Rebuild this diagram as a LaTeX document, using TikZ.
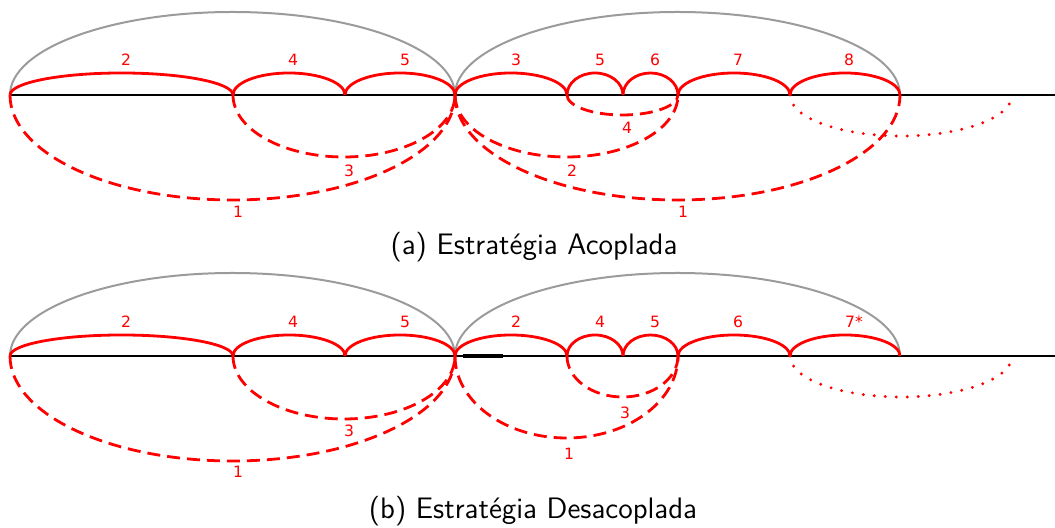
\documentclass[tikz,border=0pt]{standalone}
\usepackage{fontspec}
\newfontfamily\lblfont{DejaVu Sans}
\usetikzlibrary{calc}
\definecolor{arcgray}{RGB}{155,155,155}

\begin{document}
\begin{tikzpicture}[x=0.5pt,y=0.5pt,
  axis/.style={line width=1.3pt,black},
  outer/.style={line width=1pt,arcgray},
  seg/.style={line width=1.4pt,red},
  back/.style={line width=1.4pt,red,dash pattern=on 6.5pt off 3.5pt},
  open/.style={line width=1.6pt,red,line cap=round,dash pattern=on 0pt off 5.5pt},
  lbl/.style={red,font=\lblfont\fontsize{7.8}{9}\selectfont,inner sep=0pt},
  capt/.style={font=\sffamily\fontsize{14.8}{17}\selectfont,anchor=base,inner sep=0pt}]
\useasboundingbox (0,0) rectangle (1055,528);

% (a) Estrategia Acoplada
\begin{scope}[shift={(0,433)}]
\foreach \n/\x in {0/10,1/233,2/345,3/455,4/567,5/623,6/678,7/790,8/900,9/1012}
  \coordinate (a\n) at (\x,0);
\coordinate (aend) at (1055,0);
\draw[axis] (a0) -- (aend);
\draw[outer] (a0) arc[start angle=180,end angle=0,x radius=222.5,y radius=83];
\draw[outer] (a3) arc[start angle=180,end angle=0,x radius=222.5,y radius=83];
% forward steps
\draw[seg] (a0) arc[start angle=180,end angle=0,x radius=111.5,y radius=22];
\draw[seg] (a1) arc[start angle=180,end angle=0,x radius=56,y radius=22];
\draw[seg] (a2) arc[start angle=180,end angle=0,x radius=55,y radius=22];
\draw[seg] (a3) arc[start angle=180,end angle=0,x radius=56,y radius=22];
\draw[seg] (a4) arc[start angle=180,end angle=0,x radius=28,y radius=22];
\draw[seg] (a5) arc[start angle=180,end angle=0,x radius=27.5,y radius=22];
\draw[seg] (a6) arc[start angle=180,end angle=0,x radius=56,y radius=22];
\draw[seg] (a7) arc[start angle=180,end angle=0,x radius=55,y radius=22];
% backward steps
\draw[back] (a0) arc[start angle=180,end angle=360,x radius=222.5,y radius=105];
\draw[back] (a1) arc[start angle=180,end angle=360,x radius=111,y radius=62];
\draw[back] (a3) arc[start angle=180,end angle=360,x radius=222.5,y radius=105];
\draw[back] (a3) arc[start angle=180,end angle=360,x radius=111.5,y radius=62];
\draw[back] (a4) arc[start angle=180,end angle=360,x radius=55.5,y radius=20];
\draw[open] (a7) arc[start angle=180,end angle=360,x radius=111,y radius=41];
% labels
\node[lbl] (at2) at (126,35) {2};
\node[lbl] (at4) at (293,35) {4};
\node[lbl] (at5) at (405,35) {5};
\node[lbl] (at3) at (516,35) {3};
\node[lbl] (at5b) at (600,35) {5};
\node[lbl] (at6) at (655,35) {6};
\node[lbl] (at7) at (738,35) {7};
\node[lbl] (at8) at (849,35) {8};
\node[lbl] (ab1) at (238,-117) {1};
\node[lbl] (ab3) at (349,-76) {3};
\node[lbl] (ab2) at (572,-76) {2};
\node[lbl] (ab4) at (627,-33) {4};
\node[lbl] (ab1b) at (683,-117) {1};
\node[capt] (capa) at (534,-160) {(a) Estratégia Acoplada};
\end{scope}

% (b) Estrategia Desacoplada
\begin{scope}[shift={(0,172)}]
\foreach \n/\x in {0/10,1/233,2/345,3/455,4/567,5/623,6/678,7/790,8/900,9/1012}
  \coordinate (b\n) at (\x,0);
\coordinate (bend) at (1055,0);
\coordinate (bk0) at (463,0);
\coordinate (bk1) at (503,0);
\draw[axis] (b0) -- (bend);
\draw[line width=1.8pt] (bk0) -- (bk1);
\draw[outer] (b0) arc[start angle=180,end angle=0,x radius=222.5,y radius=83];
\draw[outer] (b3) arc[start angle=180,end angle=0,x radius=222.5,y radius=83];
% forward steps
\draw[seg] (b0) arc[start angle=180,end angle=0,x radius=111.5,y radius=21];
\draw[seg] (b1) arc[start angle=180,end angle=0,x radius=56,y radius=21];
\draw[seg] (b2) arc[start angle=180,end angle=0,x radius=55,y radius=21];
\draw[seg] (b3) arc[start angle=180,end angle=0,x radius=56,y radius=21];
\draw[seg] (b4) arc[start angle=180,end angle=0,x radius=28,y radius=21];
\draw[seg] (b5) arc[start angle=180,end angle=0,x radius=27.5,y radius=21];
\draw[seg] (b6) arc[start angle=180,end angle=0,x radius=56,y radius=21];
\draw[seg] (b7) arc[start angle=180,end angle=0,x radius=55,y radius=21];
% backward steps
\draw[back] (b0) arc[start angle=180,end angle=360,x radius=222.5,y radius=105];
\draw[back] (b1) arc[start angle=180,end angle=360,x radius=111,y radius=63];
\draw[back] (b3) arc[start angle=180,end angle=360,x radius=111.5,y radius=82];
\draw[back] (b4) arc[start angle=180,end angle=360,x radius=55.5,y radius=41];
\draw[open] (b7) arc[start angle=180,end angle=360,x radius=111,y radius=41];
% labels
\node[lbl] (bt2) at (126,34) {2};
\node[lbl] (bt4) at (293,34) {4};
\node[lbl] (bt5) at (405,34) {5};
\node[lbl] (bt2b) at (516,34) {2};
\node[lbl] (bt4b) at (600,34) {4};
\node[lbl] (bt5b) at (655,34) {5};
\node[lbl] (bt6) at (738,34) {6};
\node[lbl] (bt7) at (854,34) {7*};
\node[lbl] (bb1) at (238,-116) {1};
\node[lbl] (bb3) at (349,-75) {3};
\node[lbl] (bb3b) at (625,-57) {3};
\node[lbl] (bb1b) at (569,-98) {1};
\node[capt] (capb) at (533,-163) {(b) Estratégia Desacoplada};
\end{scope}
\end{tikzpicture}
\end{document}
